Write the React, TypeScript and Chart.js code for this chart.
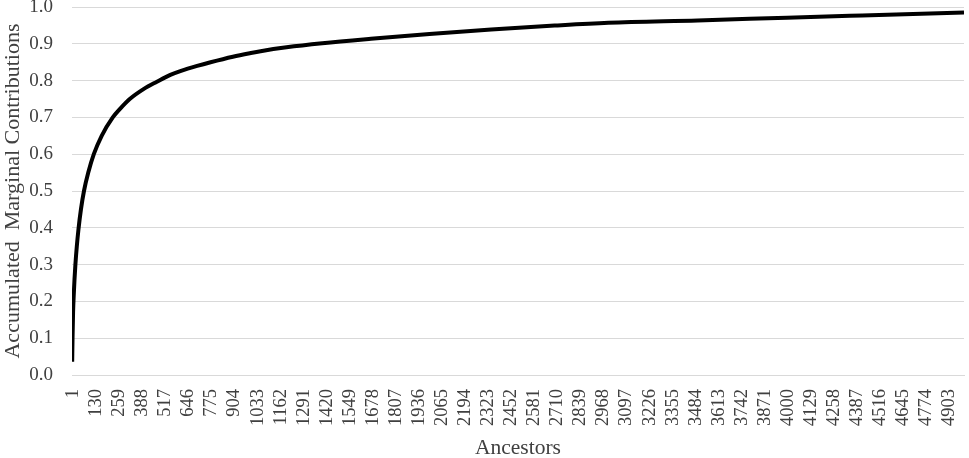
import React, { useEffect, useRef } from "react";
import { Chart, registerables } from "chart.js";

Chart.register(...registerables);

// Ancestor index (x) and accumulated marginal contribution (y)
const ancestorIndex = [1, 3, 6, 10, 14, 19, 27, 36, 50, 67, 91, 122, 166, 228, 270, 323, 400, 475, 550, 610, 700, 775, 900, 1000, 1055, 1200, 1400, 1672, 2000, 2345, 2700, 3000, 3500, 4000, 4420, 4990];
const contribution = [0.036, 0.1, 0.17, 0.22, 0.26, 0.3, 0.35, 0.395, 0.45, 0.5, 0.55, 0.6, 0.65, 0.7, 0.724, 0.75, 0.777, 0.797, 0.8155, 0.8265, 0.84, 0.85, 0.865, 0.875, 0.88, 0.8905, 0.9015, 0.9135, 0.9265, 0.939, 0.9495, 0.957, 0.9635, 0.971, 0.977, 0.985];

const xTickLabels = [1, 130, 259, 388, 517, 646, 775, 904, 1033, 1162, 1291, 1420, 1549, 1678, 1807, 1936, 2065, 2194, 2323, 2452, 2581, 2710, 2839, 2968, 3097, 3226, 3355, 3484, 3613, 3742, 3871, 4000, 4129, 4258, 4387, 4516, 4645, 4774, 4903];
const yTickValues = [0, 0.1, 0.2, 0.3, 0.4, 0.5, 0.6, 0.7, 0.8, 0.9, 1.0];

const categoryCount = 4990;
const FONT = "'Liberation Serif', 'Times New Roman', serif";
const TEXT = "#404040";
const GRID = "#d9d9d9";

export default function App() {
  const ref = useRef<HTMLCanvasElement | null>(null);

  useEffect(() => {
    if (!ref.current) return;
    const chart = new Chart(ref.current, {
      type: "line",
      data: {
        datasets: [
          {
            data: ancestorIndex.map((x, i) => ({ x, y: contribution[i] })),
            borderColor: "#000000",
            borderWidth: 4,
            pointRadius: 0,
            cubicInterpolationMode: "monotone",
            fill: false,
          },
        ],
      },
      options: {
        animation: false,
        responsive: false,
        maintainAspectRatio: false,
        layout: { padding: { top: 7, right: 5, left: 0, bottom: 0 } },
        plugins: { legend: { display: false }, tooltip: { enabled: false } },
        scales: {
          x: {
            type: "linear",
            min: 0,
            max: categoryCount,
            afterBuildTicks: (axis: any) => {
              axis.ticks = xTickLabels.map((v) => ({ value: v }));
            },
            afterFit: (axis: any) => {
              axis.height = 83;
              axis.paddingLeft = 0;
              axis.paddingRight = 0;
            },
            grid: { display: false },
            border: { display: true, color: GRID, width: 1 },
            ticks: {
              autoSkip: false,
              minRotation: 90,
              maxRotation: 90,
              padding: 6,
              labelOffset: 1,
              color: TEXT,
              font: { family: FONT, size: 18.5 },
              callback: (v: any) => String(v),
            },
            title: {
              display: true,
              text: "Ancestors",
              color: TEXT,
              font: { family: FONT, size: 21.5 },
              padding: { top: 0, bottom: -3 },
            },
          },
          y: {
            type: "linear",
            min: 0,
            max: 1,
            afterBuildTicks: (axis: any) => {
              axis.ticks = yTickValues.map((v) => ({ value: v }));
            },
            afterFit: (axis: any) => {
              axis.width = 72;
              axis.paddingTop = 0;
              axis.paddingBottom = 0;
            },
            grid: { color: GRID, lineWidth: 1, drawTicks: false },
            border: { display: false },
            ticks: {
              padding: 19,
              color: TEXT,
              font: { family: FONT, size: 19 },
              callback: (v: any) => Number(v).toFixed(1),
            },
            title: {
              display: true,
              text: "Accumulated  Marginal Contributions",
              color: TEXT,
              font: { family: FONT, size: 22 },
              padding: { top: 0, bottom: 0 },
            },
          },
        },
      },
    } as any);
    return () => chart.destroy();
  }, []);

  return (
    <div style={{ position: "absolute", left: 0, top: 0, width: 969, height: 458, background: "#fff" }}>
      <canvas ref={ref} width={969} height={458} style={{ width: 969, height: 458, display: "block" }} />
    </div>
  );
}
